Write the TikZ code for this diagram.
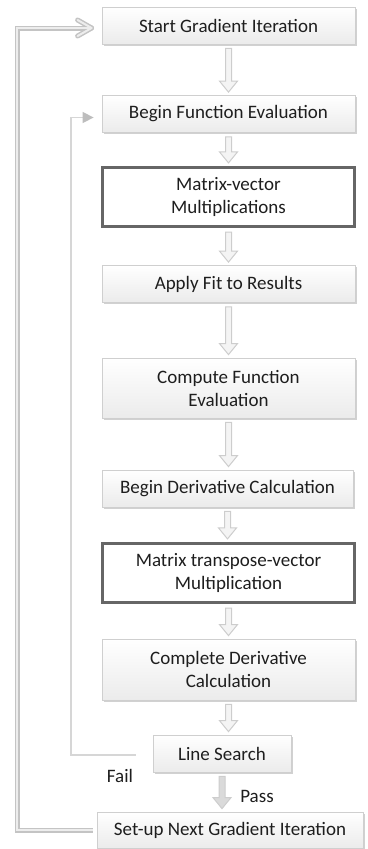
\documentclass[tikz,border=0pt]{standalone}
\usepackage{fontspec}
\setmainfont{Carlito}
\usetikzlibrary{arrows.meta,shadows,calc}

\definecolor{ink}{HTML}{1E1E1E}
\definecolor{boxedge}{HTML}{CFCFCF}
\definecolor{boxlow}{HTML}{EBEBEB}
\definecolor{heavyedge}{HTML}{666666}
\definecolor{flowedge}{HTML}{CDCDCD}
\definecolor{flowfill}{HTML}{F4F4F4}
\definecolor{passfill}{HTML}{DADADA}
\definecolor{loopedge}{HTML}{C4C4C4}
\definecolor{loopcore}{HTML}{EDEDED}
\definecolor{thinloop}{HTML}{D6D6D6}
\definecolor{thinhead}{HTML}{BDBDBD}

\tikzset{
  stepbox/.style={rectangle, draw=boxedge, line width=0.8pt,
    top color=white, bottom color=boxlow, text=ink, align=center,
    inner sep=0pt, minimum width=253, minimum height=37,
    drop shadow={shadow xshift=1.5pt, shadow yshift=-1.5pt,
      fill=black, opacity=0.18}},
  heavybox/.style={rectangle, draw=heavyedge, line width=3.2pt, fill=white,
    text=ink, align=center, inner sep=0pt, minimum width=252, minimum height=59},
  flowarrow/.style={draw=flowedge, fill=flowfill, line width=1pt, line join=miter},
  passarrow/.style={draw=flowedge, fill=passfill, line width=1pt, line join=miter},
  outerloop/.style={draw=loopedge, line width=5pt},
  outercore/.style={draw=loopcore, line width=2pt},
  innerloop/.style={draw=thinloop, line width=1.5pt},
  tag/.style={text=ink, inner sep=0pt}
}

% hollow block arrow from the bottom of one box to the top of the next
\newcommand\flowdown[3][flowarrow]{%
  \path[#1] let \p1=(#2.south), \p2=(#3.north) in
    (\x1-3pt,\y1-4pt) -- (\x1-3pt,\y2+14pt) -- (\x1-9pt,\y2+14pt) --
    (\x1,\y2+3pt) -- (\x1+9pt,\y2+14pt) -- (\x1+3pt,\y2+14pt) --
    (\x1+3pt,\y1-4pt) -- cycle;}

\begin{document}
\begin{tikzpicture}[x=1pt, y=-1pt, font=\fontsize{19}{23}\selectfont]
\useasboundingbox (0,0) rectangle (367,849);

% process steps
\node[stepbox] (start) at (228.5,25.5) {Start Gradient Iteration};
\node[stepbox] (bfe)   at (228.5,114)  {Begin Function Evaluation};
\node[heavybox] (mv)   at (228.5,197)  {Matrix-vector\\Multiplications};
\node[stepbox] (fit)   at (228.5,284)  {Apply Fit to Results};
\node[stepbox, minimum height=60] (cfe) at (228.5,388) {Compute Function\\Evaluation};
\node[stepbox, minimum width=251] (bdc) at (227.5,488.5) {Begin Derivative Calculation};
\node[heavybox] (mtv)  at (228.5,573)  {Matrix transpose-vector\\Multiplication};
\node[stepbox, minimum height=61] (cdc) at (228.5,669.5) {Complete Derivative\\Calculation};
\node[stepbox, minimum width=138] (ls) at (222,753.5) {Line Search};
\node[stepbox, minimum width=266, minimum height=36] (setup) at (230,830) {Set-up Next Gradient Iteration};

% main flow
\flowdown{start}{bfe}
\flowdown{bfe}{mv}
\flowdown{mv}{fit}
\flowdown{fit}{cfe}
\flowdown{cfe}{bdc}
\flowdown{bdc}{mtv}
\flowdown{mtv}{cdc}
\flowdown{cdc}{ls}
\flowdown[passarrow]{ls}{setup}

% outer loop: next gradient iteration
\coordinate (outer) at (17,830);
\draw[outerloop] ([xshift=-4pt]setup.west) -- (outer) |- ([shift={(-13pt,-2.5pt)}]start.west);
\draw[outerloop, line cap=round] ([shift={(-10pt,-2.5pt)}]start.west) -- ++(-14,-8);
\draw[outerloop, line cap=round] ([shift={(-10pt,-2.5pt)}]start.west) -- ++(-14,8);
\draw[outercore] ([xshift=-4pt]setup.west) -- (outer) |- ([shift={(-13pt,-2.5pt)}]start.west);
\draw[outercore, line cap=round] ([shift={(-10pt,-2.5pt)}]start.west) -- ++(-14,-8);
\draw[outercore, line cap=round] ([shift={(-10pt,-2.5pt)}]start.west) -- ++(-14,8);

% inner loop: failed line search
\coordinate (inner) at (71,755);
\draw[innerloop, -{Triangle[length=11pt, width=11pt, color=thinhead]}]
  ([shift={(-17pt,-1.5pt)}]ls.west) -- (inner) |- ([shift={(-8pt,-3.5pt)}]bfe.west);

% branch labels
\node[tag] (fail) at (120,776) {Fail};
\node[tag] (pass) at (257,796) {Pass};
\end{tikzpicture}
\end{document}
